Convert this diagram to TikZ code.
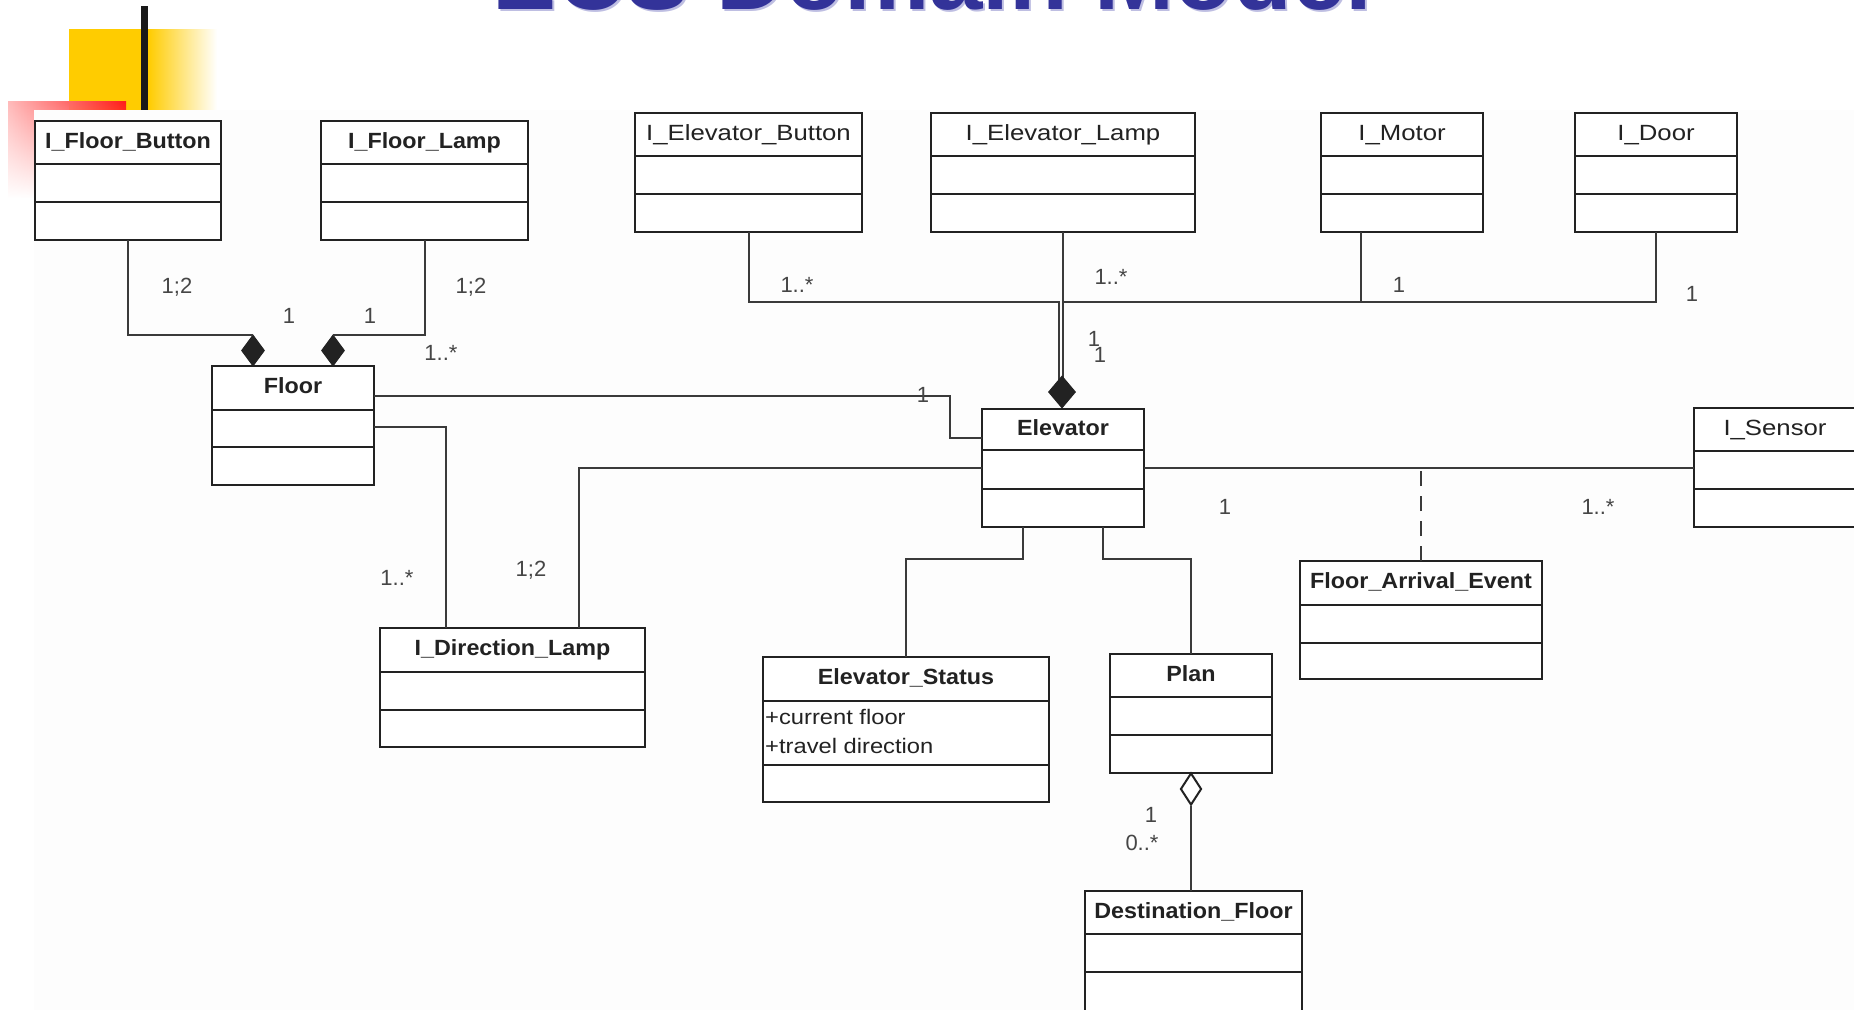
\documentclass[tikz,border=0pt]{standalone}
\usepackage{fontspec}
\setmainfont{Liberation Sans}
\newfontfamily\namebf[FakeStretch=1.06]{Liberation Sans}
\newfontfamily\nameplain[FakeStretch=1.17]{Liberation Sans}
\newfontfamily\attrfont[FakeStretch=1.13]{Liberation Sans}
\usetikzlibrary{calc,shapes.geometric,fadings}

\definecolor{titleblue}{RGB}{51,51,153}
\definecolor{titleshadow}{RGB}{190,190,226}
\definecolor{accyellow}{RGB}{255,204,0}
\definecolor{accred}{RGB}{255,28,28}
\definecolor{ink}{RGB}{34,34,34}
\definecolor{wiregray}{RGB}{58,58,58}
\definecolor{multgray}{RGB}{70,70,70}
\definecolor{panel}{RGB}{253,253,253}

\tikzfading[name=fadedown, top color=transparent!0, bottom color=transparent!100]

% UML class: name, x, y, width, height, first divider, second divider, title style, title
\newcommand\classbox[9]{%
  \node[clsbox, minimum width=#4pt, minimum height=#5pt, anchor=north west] (#1) at (#2,#3) {};
  \draw[clsline] ($(#1.north west)+(0,#6)$) -- ($(#1.north east)+(0,#6)$);
  \draw[clsline] ($(#1.north west)+(0,#7)$) -- ($(#1.north east)+(0,#7)$);
  \node[#8] (#1-name) at ($(#1.north)+(0,#6/2)$) {#9};
}

\begin{document}
\begin{tikzpicture}[x=1pt,y=-1pt,
  clsbox/.style={draw=ink, line width=2.2pt, fill=white, inner sep=0pt, outer sep=0pt},
  clsline/.style={draw=ink, line width=2pt},
  boldname/.style={font=\namebf\bfseries\fontsize{22}{24}\selectfont, text=ink, inner sep=0pt, text height=16pt, text depth=5pt},
  plainname/.style={font=\nameplain\fontsize{22}{24}\selectfont, text=ink, inner sep=0pt, text height=16pt, text depth=5pt},
  attr/.style={font=\attrfont\fontsize{21}{23}\selectfont, text=ink, inner sep=0pt, anchor=west},
  mlt/.style={font=\fontsize{22}{24}\selectfont, text=multgray, inner sep=0pt},
  wire/.style={draw=wiregray, line width=2pt},
  fdiam/.style={shape=diamond, draw=ink, fill=ink, line width=1pt, inner sep=0pt, minimum width=23pt, minimum height=31pt},
  odiam/.style={shape=diamond, draw=ink, fill=white, line width=2pt, inner sep=0pt, minimum width=21pt, minimum height=32pt}]

\useasboundingbox (0,0) rectangle (1854,1009);
\fill[white] (0,0) rectangle (1854,1009);

% slide title, mostly above the page
\node[anchor=base west, inner sep=0pt, font=\bfseries\fontsize{96}{100}\selectfont, text=titleshadow] (titleshade) at (494,11.5) {ECS Domain Model};
\node[anchor=base west, inner sep=0pt, font=\bfseries\fontsize{96}{100}\selectfont, text=titleblue] (title) at (492,9.5) {ECS Domain Model};

% slide corner ornament
\fill[accyellow] (69,29) rectangle (148,114);
\shade[left color=accyellow, right color=white] (148,29) rectangle (217,114);
\shade[left color=accred!30, right color=accred, path fading=fadedown] (8,102) rectangle (126,198);
\fill[black!90] (141,6) rectangle (148,114);

% diagram panel
\fill[panel] (34,110) rectangle (1860,1015);

% classes
\classbox{fb}{35}{121}{186}{119}{43}{81}{boldname}{I\_Floor\_Button}
\classbox{fl}{321}{121}{207}{119}{43}{81}{boldname}{I\_Floor\_Lamp}
\classbox{floor}{212}{366}{162}{119}{44}{81}{boldname}{Floor}
\classbox{ieb}{635}{113}{227}{119}{43}{81}{plainname}{I\_Elevator\_Button}
\classbox{iel}{931}{113}{264}{119}{43}{81}{plainname}{I\_Elevator\_Lamp}
\classbox{im}{1321}{113}{162}{119}{43}{81}{plainname}{I\_Motor}
\classbox{idr}{1575}{113}{162}{119}{43}{81}{plainname}{I\_Door}
\classbox{elev}{982}{409}{162}{118}{41}{80}{boldname}{Elevator}
\classbox{sens}{1694}{408}{162}{119}{43}{81}{plainname}{I\_Sensor}
\classbox{idl}{380}{628}{265}{119}{44}{82}{boldname}{I\_Direction\_Lamp}
\classbox{es}{763}{657}{286}{145}{44}{108}{boldname}{Elevator\_Status}
\classbox{plan}{1110}{654}{162}{119}{43}{81}{boldname}{Plan}
\classbox{fae}{1300}{561}{242}{118}{44}{82}{boldname}{Floor\_Arrival\_Event}
\classbox{df}{1085}{891}{217}{121}{43}{81}{boldname}{Destination\_Floor}

\node[attr] (es-a1) at (765,717) {+current floor};
\node[attr] (es-a2) at (765,746) {+travel direction};

% aggregation markers
\node[fdiam] (dfb) at (253,350.5) {};
\node[fdiam] (dfl) at (333,350.5) {};
\node[odiam] (dpl) at (1191,789) {};

% Floor associations
\draw[wire] (fb.south) |- (dfb.north);
\draw[wire] (fl.south) |- (dfl.north);
\draw[wire] ($(floor.north east)+(0,30)$) -- ++(576,0) |- ($(elev.north west)+(0,29)$);
\draw[wire] ($(floor.north east)+(0,61)$) -| ($(idl.north west)+(66,0)$);

% Elevator associations
\coordinate (sensline) at ($(elev.north east)+(0,59)$);
\draw[wire] ($(elev.north west)+(0,59)$) -| ($(idl.north west)+(199,0)$);
\draw[wire] ($(elev.south west)+(41,0)$) -- ++(0,32) -| (es.north);
\draw[wire] ($(elev.south west)+(121,0)$) -- ++(0,32) -| (plan.north);
\draw[wire] (dpl.south) -- (dpl.south |- df.north);
\draw[wire] (sensline) -- ($(sens.north west)+(0,60)$);
\draw[wire, dash pattern=on 15pt off 10pt] (fae.north) -- (fae.north |- sensline);

% Elevator parts, joined above the composition marker
\coordinate (jn) at ($(iel.south)+(0,70)$);
\draw[wire] (iel.south) -- ($(iel.south)+(0,150)$);
\draw[wire] (ieb.south) |- ($(jn)+(-4,0)$) -- ($(jn)+(-4,80)$);
\draw[wire] ($(im.south west)+(40,0)$) |- (jn);
\draw[wire] (idr.south) |- (jn);
\node[fdiam, minimum width=27pt, minimum height=32pt] (ded) at ($(elev.north)+(-1,-17)$) {};

% multiplicities
\node[mlt] (m1) at (177,287) {1;2};
\node[mlt] (m2) at (289,316) {1};
\node[mlt] (m3) at (370,316) {1};
\node[mlt] (m4) at (471,287) {1;2};
\node[mlt] (m5) at (441,353) {1..*};
\node[mlt] (m6) at (923,395) {1};
\node[mlt] (m7) at (397,578) {1..*};
\node[mlt] (m8) at (531,570) {1;2};
\node[mlt] (m9) at (797,285) {1..*};
\node[mlt] (m10) at (1111,277) {1..*};
\node[mlt] (m11) at (1399,285) {1};
\node[mlt] (m12) at (1692,294) {1};
\node[mlt] (m13) at (1094,339) {1};
\node[mlt] (m14) at (1100,355) {1};
\node[mlt] (m15) at (1225,507) {1};
\node[mlt] (m16) at (1598,507) {1..*};
\node[mlt] (m17) at (1151,815) {1};
\node[mlt] (m18) at (1142,843) {0..*};
\end{tikzpicture}
\end{document}
